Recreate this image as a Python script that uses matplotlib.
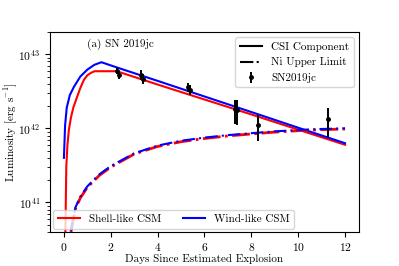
import matplotlib
matplotlib.use('Agg')
import matplotlib.pyplot as plt
from matplotlib.lines import Line2D

plt.rcParams['font.family'] = 'serif'
plt.rcParams['font.serif'] = ['cmr10', 'DejaVu Serif']
plt.rcParams['mathtext.fontset'] = 'cm'
plt.rcParams['axes.formatter.use_mathtext'] = True
plt.rcParams['font.size'] = 8

# shell-like CSM (red)
t_shell = [0.05, 0.1, 0.15, 0.21, 0.3, 0.4, 0.57, 0.7, 0.85, 1.0, 1.15, 1.31,
           2.25, 4, 6, 8, 10, 12]
L_shell = [2e40, 3e41, 6e41, 9.5e41, 1.4e42, 1.9e42, 2.7e42, 3.5e42, 4.5e42,
           5.2e42, 5.6e42, 5.9e42, 5.9e42, 3.9e42, 2.45e42, 1.54e42, 9.6e41, 6e41]

# wind-like CSM (blue)
t_wind = [0.0, 0.05, 0.12, 0.25, 0.42, 0.7, 1.0, 1.3, 1.6, 2.28, 4, 6, 8, 10, 12]
L_wind = [4e41, 1.1e42, 1.9e42, 2.8e42, 3.6e42, 5.0e42, 6.2e42, 7.2e42, 7.8e42,
          6.6e42, 4.37e42, 2.69e42, 1.66e42, 1.02e42, 6.3e41]

# Ni upper limits
t_ni = [0.3, 0.4, 0.5, 0.7, 1, 1.5, 2, 3, 4, 5, 6, 7, 8, 9, 10, 11, 12]
L_ni_shell = [4e40, 6e40, 8.4e40, 1.15e41, 1.6e41, 2.3e41, 3e41, 4.5e41, 5.7e41,
              6.6e41, 7.3e41, 7.9e41, 8.4e41, 8.9e41, 9.3e41, 9.6e41, 9.8e41]
L_ni_wind = [4.1e40, 6.2e40, 8.7e40, 1.2e41, 1.65e41, 2.38e41, 3.1e41, 4.6e41, 5.85e41,
             6.8e41, 7.5e41, 8.1e41, 8.6e41, 9.1e41, 9.5e41, 9.8e41, 1.0e42]

# observations
t_obs = [2.25, 2.35, 3.3, 3.38, 5.3, 5.37, 7.3, 7.37, 8.29, 11.28]
L_obs = [6.0e42, 5.3e42, 5.3e42, 4.7e42, 3.6e42, 3.3e42, 1.8e42, 1.75e42, 1.1e42, 1.32e42]
L_err = [0.6e42, 0.6e42, 0.8e42, 0.7e42, 0.5e42, 0.5e42, 0.65e42, 0.65e42, 0.43e42, 0.55e42]

fig = plt.figure(figsize=(3.99, 2.66), dpi=100)
ax = fig.add_axes([0.125, 0.128, 0.775, 0.752])

l1, = ax.plot(t_shell, L_shell, color='red', lw=1.5)
l2, = ax.plot(t_wind, L_wind, color='blue', lw=1.5)
ax.plot(t_ni, L_ni_shell, color='red', lw=2, ls='-.')
ax.plot(t_ni, L_ni_wind, color='blue', lw=1.5, ls=(2, (6, 2, 1, 2)))
eb = ax.errorbar(t_obs, L_obs, yerr=L_err, fmt='o', color='black', ms=2.5, elinewidth=1.4)

ax.set_yscale('log')
ax.set_xlim(-0.6, 12.6)
ax.set_ylim(4e40, 2e43)
ax.set_xticks([0, 2, 4, 6, 8, 10, 12])
ax.tick_params(labelsize=8.3)
ax.tick_params(axis='x', pad=2.8)
ax.set_xlabel('Days Since Estimated Explosion')
ax.set_ylabel(r'Luminosity [erg s$^{-1}$]')
ax.xaxis.set_label_coords(0.5, -0.108)
ax.yaxis.set_label_coords(-0.097, 0.5)
ax.text(0.12, 0.94, '(a) SN 2019jc', transform=ax.transAxes, ha='left', va='center')

h1 = Line2D([], [], color='black', lw=1.5)
h2 = Line2D([], [], color='black', lw=1.5, ls='-.')
leg1 = ax.legend([h1, h2, eb], ['CSI Component', 'Ni Upper Limit', 'SN2019jc'],
                 loc='upper right')
ax.add_artist(leg1)
ax.legend([l1, l2], ['Shell-like CSM', 'Wind-like CSM'], loc='lower left', ncol=2,
          borderaxespad=0.3)

fig.savefig('out.png', dpi=100)
